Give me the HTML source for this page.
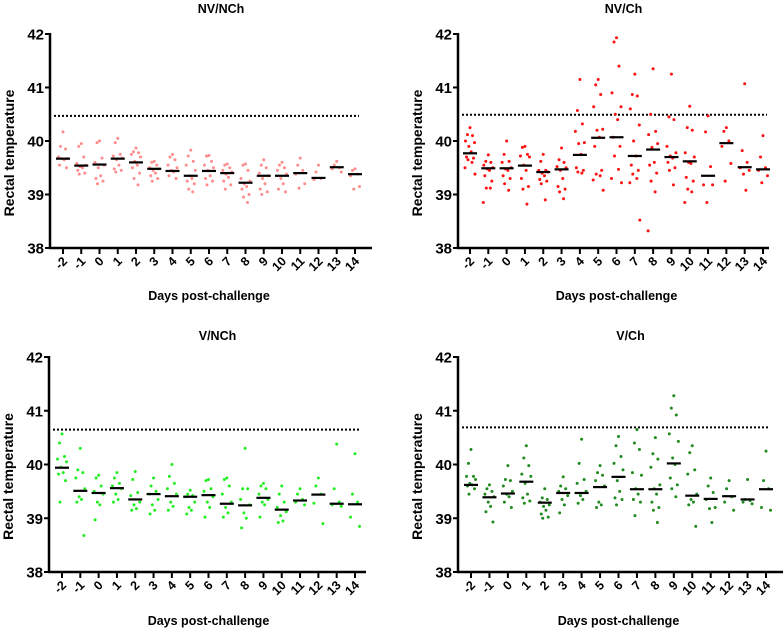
<!DOCTYPE html>
<html><head><meta charset="utf-8"><style>
body{margin:0;background:#fff;}
svg{display:block;font-family:"Liberation Sans",sans-serif;}
</style></head><body>
<svg id="chart" width="783" height="629"></svg>
<script>
const days = ["-2","-1","0","1","2","3","4","5","6","7","8","9","10","11","12","13","14"];
const yTicks = [38,39,40,41,42];
const titles = ["NV/NCh","NV/Ch","V/NCh","V/Ch"];
const thresholds = [40.47,40.49,40.65,40.69];
const colors = ["#ff8c8c","#ff1010","#22ee22","#1e8a1e"];

const medNVNCh = [39.67,39.54,39.56,39.67,39.6,39.48,39.44,39.35,39.44,39.4,39.22,39.35,39.35,39.4,39.31,39.51,39.38];
const ptsNVNCh = [
[40.17,39.9,39.85,39.7,39.67,39.67,39.65,39.55,39.5],
[39.95,39.9,39.7,39.58,39.55,39.52,39.5,39.45,39.4,39.38],
[40.0,39.97,39.68,39.6,39.55,39.5,39.35,39.3,39.25,39.2],
[40.05,39.97,39.75,39.72,39.68,39.65,39.55,39.48,39.45,39.42],
[39.87,39.8,39.78,39.75,39.7,39.62,39.55,39.5,39.4,39.3,39.18],
[39.62,39.6,39.55,39.5,39.48,39.45,39.4,39.35,39.3,39.25],
[39.75,39.7,39.65,39.55,39.5,39.45,39.42,39.35,39.3],
[39.83,39.72,39.62,39.55,39.45,39.35,39.3,39.25,39.2,39.1,39.05],
[39.73,39.72,39.62,39.55,39.5,39.45,39.35,39.3,39.25,39.18],
[39.57,39.55,39.5,39.45,39.42,39.38,39.32,39.25,39.18,39.1],
[39.57,39.55,39.45,39.3,39.25,39.2,39.15,39.1,39.0,38.95,38.85],
[39.65,39.55,39.5,39.4,39.35,39.3,39.2,39.1,39.05,39.0],
[39.6,39.55,39.5,39.45,39.38,39.3,39.2,39.1,39.05],
[39.68,39.55,39.45,39.38,39.2,39.12],
[39.55,39.42,39.3,39.28],
[39.62,39.55,39.5,39.48,39.42],
[39.48,39.45,39.38,39.35,39.15,39.1]];

const medNVCh = [39.77,39.49,39.49,39.54,39.42,39.47,39.74,40.06,40.07,39.72,39.84,39.7,39.62,39.35,39.96,39.51,39.47];
const ptsNVCh = [
[40.25,40.12,40.1,40.0,39.97,39.9,39.8,39.7,39.68,39.65,39.6,39.5,39.38],
[39.74,39.62,39.6,39.55,39.5,39.48,39.45,39.35,39.25,39.12,39.12,38.85],
[40.0,39.75,39.62,39.6,39.5,39.48,39.45,39.35,39.3,39.2,39.08],
[39.9,39.88,39.75,39.72,39.7,39.55,39.45,39.3,39.15,39.1,38.82],
[39.75,39.62,39.45,39.45,39.42,39.4,39.35,39.28,39.25,39.2,38.9],
[39.87,39.65,39.6,39.52,39.5,39.45,39.3,39.15,39.1,39.05,38.92],
[41.15,40.57,40.32,40.18,39.97,39.95,39.75,39.5,39.45,39.42,39.4],
[41.15,41.05,40.87,40.64,40.22,40.2,40.07,39.9,39.45,39.38,39.35,39.27,39.08],
[41.93,41.85,41.4,40.9,40.64,40.5,40.4,40.07,39.9,39.72,39.47,39.3,39.22],
[41.25,40.87,40.84,40.6,40.3,40.0,39.72,39.55,39.45,39.38,39.3,39.22,38.52],
[41.35,40.5,40.18,40.12,39.95,39.88,39.6,39.55,39.4,39.25,39.05,38.32],
[41.25,40.45,40.4,39.9,39.78,39.72,39.68,39.6,39.5,39.45,39.18],
[40.65,40.25,40.2,39.78,39.7,39.6,39.58,39.32,39.25,39.1,39.05,38.85],
[40.47,40.17,39.52,39.18,39.18,38.85],
[40.25,40.18,40.0,39.9,39.58,39.25],
[41.07,39.82,39.6,39.5,39.45,39.38,39.08],
[40.1,39.7,39.5,39.45,39.35,39.22]];

const medVNCh = [39.94,39.51,39.47,39.56,39.35,39.45,39.41,39.4,39.43,39.27,39.24,39.38,39.16,39.33,39.44,39.27,39.26];
const ptsVNCh = [
[40.57,40.4,40.15,40.1,40.05,39.95,39.85,39.82,39.7,39.3],
[40.3,39.9,39.85,39.75,39.55,39.4,39.35,39.3,38.68],
[39.8,39.75,39.6,39.5,39.45,39.3,39.25,38.97],
[39.85,39.75,39.65,39.6,39.55,39.45,39.35,39.3],
[39.87,39.72,39.48,39.42,39.3,39.25,39.18,39.15],
[39.75,39.6,39.5,39.45,39.35,39.25,39.15,39.08],
[40.0,39.78,39.65,39.55,39.45,39.3,39.22,39.15],
[39.52,39.45,39.42,39.4,39.3,39.2,39.15,39.08],
[39.72,39.7,39.55,39.5,39.4,39.3,39.2,39.02],
[39.75,39.72,39.6,39.45,39.3,39.2,39.1,39.02],
[40.3,39.55,39.55,39.35,39.25,39.1,39.0,38.82],
[39.65,39.6,39.55,39.45,39.35,39.3,39.25,39.02],
[39.6,39.45,39.3,39.2,39.12,39.05,38.95,38.92],
[39.55,39.45,39.35,39.3,39.25],
[39.75,39.6,39.45,39.28,38.9],
[40.38,39.55,39.3,39.25,39.22],
[40.2,39.45,39.3,39.02,38.85]];

const medVCh = [39.62,39.39,39.46,39.68,39.29,39.47,39.47,39.58,39.77,39.54,39.54,40.02,39.42,39.36,39.41,39.35,39.54];
const ptsVCh = [
[40.28,40.02,39.78,39.78,39.72,39.65,39.62,39.6,39.55,39.45],
[39.62,39.55,39.5,39.45,39.4,39.3,39.22,39.12,38.93],
[39.98,39.72,39.7,39.6,39.5,39.45,39.4,39.3,39.2],
[40.35,40.12,39.98,39.82,39.78,39.65,39.45,39.38,39.32,39.28],
[39.55,39.38,39.35,39.3,39.25,39.22,39.15,39.08,39.02,39.0],
[39.77,39.6,39.55,39.5,39.42,39.35,39.25,39.1],
[40.47,40.02,39.72,39.65,39.5,39.42,39.35,39.28],
[39.98,39.85,39.8,39.7,39.6,39.3,39.25,39.2],
[40.52,40.35,40.15,40.02,39.9,39.7,39.5,39.38,39.35,39.25],
[40.65,40.4,40.28,39.85,39.8,39.55,39.45,39.35,39.3,39.05],
[40.5,40.2,40.1,39.95,39.62,39.55,39.45,39.3,39.2,39.15,38.92],
[41.28,41.05,40.92,40.57,40.43,40.12,40.0,39.75,39.62,39.55,39.4],
[40.35,40.22,39.9,39.82,39.45,39.35,39.3,39.25,38.85],
[39.75,39.6,39.48,39.35,39.2,39.18,38.92],
[39.7,39.55,39.4,39.3,39.15],
[39.72,39.35,39.33,39.3,39.27],
[40.25,39.7,39.55,39.2,39.15]];

const medians = [medNVNCh, medNVCh, medVNCh, medVCh];
const points = [ptsNVNCh, ptsNVCh, ptsVNCh, ptsVCh];

// layout (not data)
const layouts = [
 {ax:50, x0:63, x1:355, xEnd:372, yTop:34, yBot:248, titleY:13, tickLabY:262, xTitleY:300},
 {ax:458, x0:470, x1:763, xEnd:769, yTop:34, yBot:248, titleY:13, tickLabY:262, xTitleY:300},
 {ax:49, x0:62, x1:355, xEnd:366, yTop:357, yBot:572, titleY:340, tickLabY:586, xTitleY:625},
 {ax:458, x0:471, x1:766, xEnd:783, yTop:357, yBot:572, titleY:340, tickLabY:586, xTitleY:625}
];
const jit = [0,-2.5,2.5,-4.5,4.5,-1.2,1.2,-3.5,3.5,-2,2,-5,5,0];

const NS="http://www.w3.org/2000/svg";
const svg=document.getElementById('chart');
function mk(tag,attrs,parent){const e=document.createElementNS(NS,tag);for(const k in attrs)e.setAttribute(k,attrs[k]);(parent||svg).appendChild(e);return e;}

layouts.forEach((L,p)=>{
  const g=mk('g',{});
  
  
  const xs=i=>L.x0+(L.x1-L.x0)*i/(days.length-1);
  const ys=v=>L.yBot-(v-38)/(42-38)*(L.yBot-L.yTop);
  const cx=(L.ax+L.xEnd)/2;
  const t=mk('text',{x:cx+10,y:L.titleY,'text-anchor':'middle','font-size':'12.5','font-weight':'bold'},g);
  t.textContent=titles[p];
  
  
  const th=mk('line',{x1:L.ax+4,x2:L.x1+4,y1:ys(thresholds[p]),y2:ys(thresholds[p]),stroke:'#000','stroke-width':'2','stroke-dasharray':'2 2'},g);
  
  
  points[p].forEach((arr,i)=>{
    arr.forEach((v,j)=>{
      const c=mk('circle',{cx:xs(i)+jit[j%jit.length],cy:ys(v),r:1.5,fill:colors[p]},g);
      
      
    });
    const m=mk('line',{x1:xs(i)-7,x2:xs(i)+7,y1:ys(medians[p][i]),y2:ys(medians[p][i]),stroke:'#000','stroke-width':'2.2'},g);
    
    
  });
  const ya=mk('line',{x1:L.ax,x2:L.ax,y1:L.yTop-1,y2:L.yBot+1,stroke:'#000','stroke-width':'2.5'},g);
  
  
  const xa=mk('line',{x1:L.ax-1,x2:L.xEnd,y1:L.yBot,y2:L.yBot,stroke:'#000','stroke-width':'2.5'},g);
  
  
  yTicks.forEach(v=>{
    mk('line',{x1:L.ax-5,x2:L.ax,y1:ys(v),y2:ys(v),stroke:'#000','stroke-width':'2'},g);
    const tl=mk('text',{x:L.ax-6,y:ys(v)+5.5,'text-anchor':'end','font-size':'15','font-weight':'bold'},g);
    tl.textContent=v;
    
    
  });
  days.forEach((d,i)=>{
    mk('line',{x1:xs(i),x2:xs(i),y1:L.yBot,y2:L.yBot+6,stroke:'#000','stroke-width':'2'},g);
    const tl=mk('text',{x:xs(i)+5,y:L.tickLabY,'text-anchor':'end','font-size':'12.5','font-weight':'bold',transform:`rotate(-45 ${xs(i)+5} ${L.tickLabY})`},g);
    tl.textContent=d;
    
    
  });
  const xt=mk('text',{x:(L.x0+L.x1)/2,y:L.xTitleY,'text-anchor':'middle','font-size':'12.5','font-weight':'bold'},g);
  xt.textContent='Days post-challenge';
  
  
  const yx=L.ax-36, yy=(L.yTop+L.yBot)/2+12;
  const yt=mk('text',{x:yx,y:yy,'text-anchor':'middle','font-size':'14','font-weight':'bold',transform:`rotate(-90 ${yx} ${yy})`},g);
  yt.textContent='Rectal temperature';
  
  
});
</script>
</body></html>
